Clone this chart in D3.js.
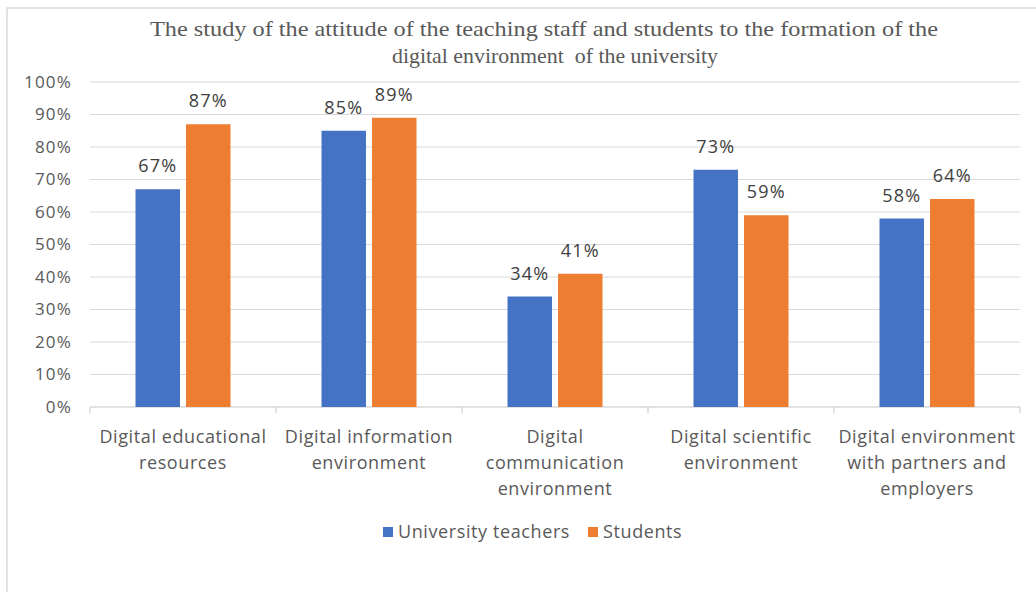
<!DOCTYPE html>
<html><head><meta charset="utf-8">
<script src="https://cdn.jsdelivr.net/npm/d3@7"></script>
<style>body{margin:0;background:#fff}svg{display:block}</style>
</head><body>
<svg id="c" width="1036" height="592"></svg>
<script>
const categories = [
  ["Digital educational", "resources"],
  ["Digital information", "environment"],
  ["Digital", "communication", "environment"],
  ["Digital scientific", "environment"],
  ["Digital environment", "with partners and", "employers"]
];
const seriesNames = ["University teachers", "Students"];
const teachers = [67, 85, 34, 73, 58];
const students = [87, 89, 41, 59, 64];
const yTicks = [0,10,20,30,40,50,60,70,80,90,100];
const colors = ["#4472C4", "#ED7D31"];
const titleLines = ["The study of the attitude of the teaching staff and students to the formation of the", "digital environment  of the university"];

(function(){
const svg = d3.select("#c");
svg.append("path").attr("d","M7,592 V8 H1036").attr("fill","none").attr("stroke","#d9d9d9").attr("stroke-width",1.5);

const pLeft = 90, pRight = 1020, pTop = 82, pBottom = 407;
const x = d3.scaleBand().domain(d3.range(categories.length)).range([pLeft, pRight]);
const y = d3.scaleLinear().domain([0, 100]).range([pBottom, pTop]);
const inner = d3.scaleBand().domain([0,1]).range([0, 95]).paddingInner(0.12);
const sans = "'Open Sans', sans-serif";

svg.append("g").selectAll("line").data(yTicks.filter(t=>t>0)).join("line")
  .attr("x1", pLeft).attr("x2", pRight).attr("y1", d=>y(d)).attr("y2", d=>y(d))
  .attr("stroke", "#d9d9d9").attr("stroke-width", 1);

svg.append("g").selectAll("text").data(yTicks).join("text")
  .attr("x", 72).attr("y", d=>y(d)).attr("dy","0.35em").attr("text-anchor","end")
  .attr("font-family",sans).attr("font-size",17).attr("letter-spacing",1.2).attr("fill","#595959")
  .text(d=>d+"%");

svg.append("line").attr("x1",pLeft).attr("x2",pRight).attr("y1",pBottom).attr("y2",pBottom).attr("stroke","#d9d9d9").attr("stroke-width",1.5);
svg.append("g").selectAll("line").data(d3.range(categories.length+1)).join("line")
  .attr("x1", i=> i<categories.length ? x(i) : pRight).attr("x2", i=> i<categories.length ? x(i) : pRight)
  .attr("y1", pBottom).attr("y2", pBottom+6).attr("stroke","#d9d9d9").attr("stroke-width",1.5);

const series = [teachers, students];
series.forEach((vals, s) => {
  const g = svg.append("g");
  g.selectAll("rect").data(vals).join("rect")
    .attr("x", (d,i)=> x(i) + (x.bandwidth()-95)/2 + inner(s))
    .attr("width", inner.bandwidth())
    .attr("y", d=>y(d)).attr("height", d=>pBottom - y(d))
    .attr("fill", colors[s]);
  g.selectAll("text").data(vals).join("text")
    .attr("x", (d,i)=> x(i) + (x.bandwidth()-95)/2 + inner(s) + inner.bandwidth()/2)
    .attr("y", d=>y(d) - 17)
    .attr("text-anchor","middle")
    .attr("font-family",sans).attr("font-size",18).attr("letter-spacing",1.2).attr("fill","#404040")
    .text(d=>d+"%");
});

const cg = svg.append("g");
categories.forEach((lines, i) => {
  const t = cg.append("text").attr("text-anchor","middle")
    .attr("font-family",sans).attr("font-size",18).attr("letter-spacing",0.6).attr("fill","#595959");
  lines.forEach((l, k) => {
    t.append("tspan").attr("x", x(i)+x.bandwidth()/2).attr("y", 443 + k*26).text(l);
  });
});

const tt = svg.append("g")
  .attr("font-family","'Liberation Serif', serif").attr("font-size",21).attr("fill","#595959");
const tLens = [788, 326];
const tX = [544, 555];
titleLines.forEach((l,k)=> tt.append("text").attr("text-anchor","middle").style("white-space","pre")
  .attr("x", tX[k]).attr("y", 36 + k*27).attr("textLength", tLens[k]).attr("lengthAdjust","spacingAndGlyphs").text(l));

const lg = svg.append("g").attr("font-family",sans).attr("font-size",18).attr("letter-spacing",0.6).attr("fill","#595959");
const legendX = [383, 588];
seriesNames.forEach((n, s) => {
  lg.append("rect").attr("x", legendX[s]).attr("y", 527).attr("width", 10).attr("height", 10).attr("fill", colors[s]);
  lg.append("text").attr("x", legendX[s]+15).attr("y", 532).attr("dy","0.35em").text(n);
});
})();
</script>
</body></html>
